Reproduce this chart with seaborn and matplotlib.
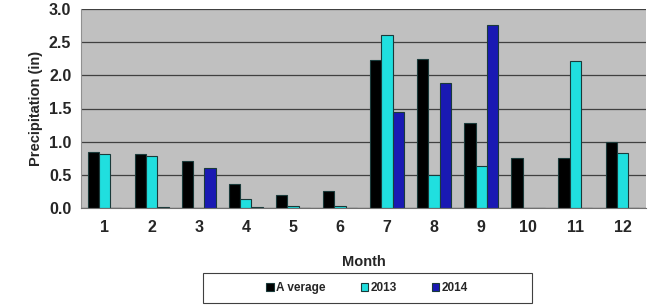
import numpy as np
import pandas as pd
import matplotlib
matplotlib.use("Agg")
import matplotlib.pyplot as plt
import seaborn as sns
from matplotlib.patches import Rectangle

# -- data --
months = [1, 2, 3, 4, 5, 6, 7, 8, 9, 10, 11, 12]
average = [0.85, 0.81, 0.71, 0.36, 0.20, 0.25, 2.23, 2.24, 1.28, 0.75, 0.75, 1.00]
y2013 = [0.82, 0.79, 0.00, 0.14, 0.03, 0.03, 2.61, 0.49, 0.63, 0.00, 2.21, 0.83]
y2014 = [0.00, 0.02, 0.60, 0.02, 0.00, 0.00, 1.44, 1.89, 2.76, 0.00, 0.00, 0.00]
series = ["A verage", "2013", "2014"]
colors = ["#000000", "#00ffff", "#0000cc"]

df = pd.DataFrame({
    "Month": months * 3,
    "Precip": average + y2013 + y2014,
    "Series": [series[0]] * 12 + [series[1]] * 12 + [series[2]] * 12,
})

sns.set_style("white")
plt.rcParams["font.family"] = ["Liberation Sans", "DejaVu Sans"]

fig = plt.figure(figsize=(6.54, 3.08), dpi=100)
ax = fig.add_axes([81 / 654, 1 - 208 / 308, (646 - 81) / 654, (208 - 9) / 308])
ax.set_facecolor("#c0c0c0")

sns.barplot(data=df, x="Month", y="Precip", hue="Series", hue_order=series,
            palette=colors, width=0.72, ax=ax, edgecolor="#1a3a3a",
            linewidth=0.8, legend=True)

ax.set_ylim(0, 3.0)
ax.set_yticks(np.arange(0, 3.01, 0.5))
ax.set_yticklabels([f"{v:.1f}" for v in np.arange(0, 3.01, 0.5)],
                   fontsize=11.5, fontweight="bold")
ax.set_xticklabels([str(m) for m in months], fontsize=11.5, fontweight="bold")
ax.yaxis.grid(True, color="#404040", linewidth=0.9)
ax.set_axisbelow(True)

# tick marks between month groups
ax.set_xticks(np.arange(-0.5, 12, 1), minor=True)
ax.tick_params(axis="x", which="major", length=0, pad=9)
ax.tick_params(axis="x", which="minor", length=5, width=0.8, color="#606060",
               direction="out")
ax.tick_params(axis="y", length=4, width=0.8, color="#808080", direction="out", pad=3)

for side in ["top", "right"]:
    ax.spines[side].set_visible(False)
ax.spines["left"].set_color("#909090")
ax.spines["bottom"].set_color("#707070")

ax.set_xlabel("Month", fontsize=10.5, fontweight="bold", labelpad=14)
ax.set_ylabel("Precipitation (in)", fontsize=10.5, fontweight="bold", labelpad=4)

# legend without its own frame, boxed by a separate rectangle
handles, labels = ax.get_legend_handles_labels()
ax.legend(handles, labels, loc="center", bbox_to_anchor=(367 / 654, 1 - 288 / 308),
          bbox_transform=fig.transFigure, ncol=3, frameon=False,
          handlelength=0.6, handleheight=0.6, handletextpad=0.2,
          columnspacing=3.0, prop={"size": 8.5, "weight": "bold"})
fig.patches.append(Rectangle((203 / 654, 1 - 303 / 308), (532 - 203) / 654, 30 / 308,
                             transform=fig.transFigure, fill=False,
                             edgecolor="#404040", linewidth=0.8))

fig.savefig("out.png", dpi=100, facecolor="white")
